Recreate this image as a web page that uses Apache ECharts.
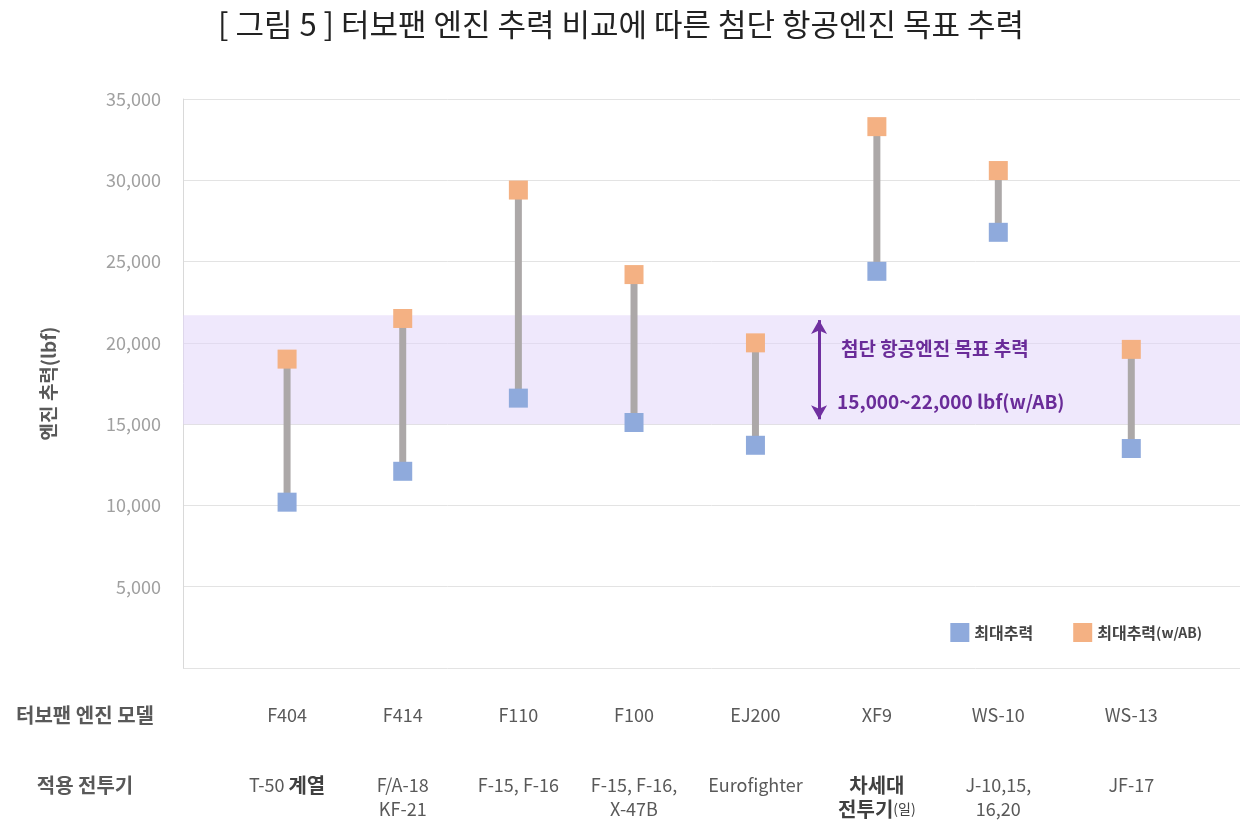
<!DOCTYPE html>
<html><head><meta charset="utf-8">
<script src="https://cdn.jsdelivr.net/npm/echarts@6/dist/echarts.min.js"></script>
<style>html,body{margin:0;background:#fff}#c{width:1242px;height:833px}</style>
</head><body><div id="c"></div>
<script>
const models = ['F404', 'F414', 'F110', 'F100', 'EJ200', 'XF9', 'WS-10', 'WS-13'];
const fighters = ['T-50 {b|계열}', 'F/A-18\nKF-21', 'F-15, F-16', 'F-15, F-16,\nX-47B', 'Eurofighter', '{b|차세대}\n{b|전투기}{s|(일)}', 'J-10,15,\n16,20', 'JF-17'];
const xPos = [0, 1, 2, 3, 4.05, 5.1, 6.15, 7.3];
const maxThrust = [10200, 12100, 16600, 15100, 13700, 24400, 26800, 13500];
const abThrust = [19000, 21500, 29400, 24200, 20000, 33300, 30600, 19600];
const bandRange = [15000, 21700];

const font = "'Noto Sans CJK KR', sans-serif";
const chart = echarts.init(document.getElementById('c'));
const pairs = xPos.map((x, i) => [x, maxThrust[i], abThrust[i]]);
chart.setOption({
  animation: false,
  textStyle: {fontFamily: font},
  title: {text: '[ 그림 5 ] 터보팬 엔진 추력 비교에 따른 첨단 항공엔진 목표 추력', left: 'center', top: 4,
    textStyle: {fontSize: 31, fontWeight: 'normal', color: '#222', fontFamily: font}},
  grid: {left: 183, right: 2, top: 99, bottom: 165},
  legend: {right: 35, top: 618, itemWidth: 19, itemHeight: 19, itemGap: 40,
    textStyle: {fontSize: 16, color: '#444', fontWeight: 'bold',
      rich: {s: {fontSize: 14, color: '#444'}}},
    formatter: n => n === '최대추력(w/AB)' ? '최대추력{s|(w/AB)}' : n,
    data: [{name: '최대추력', icon: 'rect'}, {name: '최대추력(w/AB)', icon: 'rect'}]},
  xAxis: {type: 'value', min: -0.9, max: 8.24, show: false},
  yAxis: {type: 'value', min: 0, max: 35000, interval: 5000,
    name: '엔진 추력(lbf)', nameLocation: 'middle', nameGap: 125, nameRotate: 90,
    nameTextStyle: {fontSize: 19, fontWeight: 'bold', color: '#595959'},
    axisLine: {show: true, onZero: false, lineStyle: {color: '#d9d9d9'}}, axisTick: {show: false},
    splitLine: {lineStyle: {color: '#e3e3e3'}},
    axisLabel: {fontSize: 18, color: '#a0a0a0', margin: 22,
      formatter: v => v === 0 ? '' : v.toLocaleString('en-US')}},
  series: [
    {type: 'custom', data: pairs, z: 1,
      renderItem: (params, api) => {
        const a = api.coord([api.value(0), api.value(1)]);
        const b = api.coord([api.value(0), api.value(2)]);
        return {type: 'rect', shape: {x: a[0] - 3.5, y: b[1], width: 7, height: a[1] - b[1]},
          style: {fill: '#aca8a8'}};
      },
      markArea: {silent: true, itemStyle: {color: 'rgba(226,214,250,0.55)'},
        data: [[{yAxis: bandRange[0], xAxis: -0.9}, {yAxis: bandRange[1], xAxis: 8.24}]]},
      markLine: {silent: true, symbol: ['arrow', 'arrow'], symbolSize: [12, 14], label: {show: false},
        lineStyle: {color: '#7030a0', width: 3, type: 'solid'},
        data: [[{coord: [4.6, 15300]}, {coord: [4.6, 21400]}]]}},
    {name: '최대추력', type: 'scatter', symbol: 'rect', symbolSize: 19, z: 3,
      itemStyle: {color: '#8faadc', opacity: 1}, data: xPos.map((x, i) => [x, maxThrust[i]])},
    {name: '최대추력(w/AB)', type: 'scatter', symbol: 'rect', symbolSize: 19, z: 3,
      itemStyle: {color: '#f4b183', opacity: 1}, data: xPos.map((x, i) => [x, abThrust[i]])}
  ]
});

const gfx = [];
const rich = {b: {fontSize: 20, fontWeight: 'bold', fill: '#404040', fontFamily: font, lineHeight: 24},
  s: {fontSize: 14, fill: '#404040', fontFamily: font, lineHeight: 24}};
xPos.forEach((x, i) => {
  const p = chart.convertToPixel({gridIndex: 0}, [x, 0]);
  gfx.push({type: 'text', z: 100, x: p[0], y: 715, style: {text: models[i], fontSize: 18, fill: '#595959',
    fontFamily: font, align: 'center', verticalAlign: 'middle'}});
  gfx.push({type: 'text', z: 100, x: p[0], y: 773, style: {text: fighters[i], fontSize: 18, fill: '#595959',
    fontFamily: font, align: 'center', verticalAlign: 'top', lineHeight: 24, rich: rich}});
});
gfx.push({type: 'text', z: 100, x: 85, y: 715, style: {text: '터보팬 엔진 모델', fontSize: 20, fontWeight: 'bold',
  fill: '#595959', fontFamily: font, align: 'center', verticalAlign: 'middle'}});
gfx.push({type: 'text', z: 100, x: 85, y: 785, style: {text: '적용 전투기', fontSize: 20, fontWeight: 'bold',
  fill: '#595959', fontFamily: font, align: 'center', verticalAlign: 'middle'}});
const t = chart.convertToPixel({gridIndex: 0}, [4.6, 20000]);
const t2 = chart.convertToPixel({gridIndex: 0}, [4.6, 16600]);
gfx.push({type: 'text', z: 100, x: t[0] + 22, y: t[1] + 6, style: {text: '첨단 항공엔진 목표 추력', fontSize: 19,
  fontWeight: 'bold', fill: '#6a2c99', opacity: 1, fontFamily: font, verticalAlign: 'middle'}});
gfx.push({type: 'text', z: 100, x: t2[0] + 18, y: t2[1] + 4, style: {text: '15,000~22,000 lbf(w/AB)', fontSize: 19,
  fontWeight: 'bold', fill: '#6a2c99', opacity: 1, fontFamily: font, verticalAlign: 'middle'}});
chart.setOption({graphic: gfx});
</script></body></html>
